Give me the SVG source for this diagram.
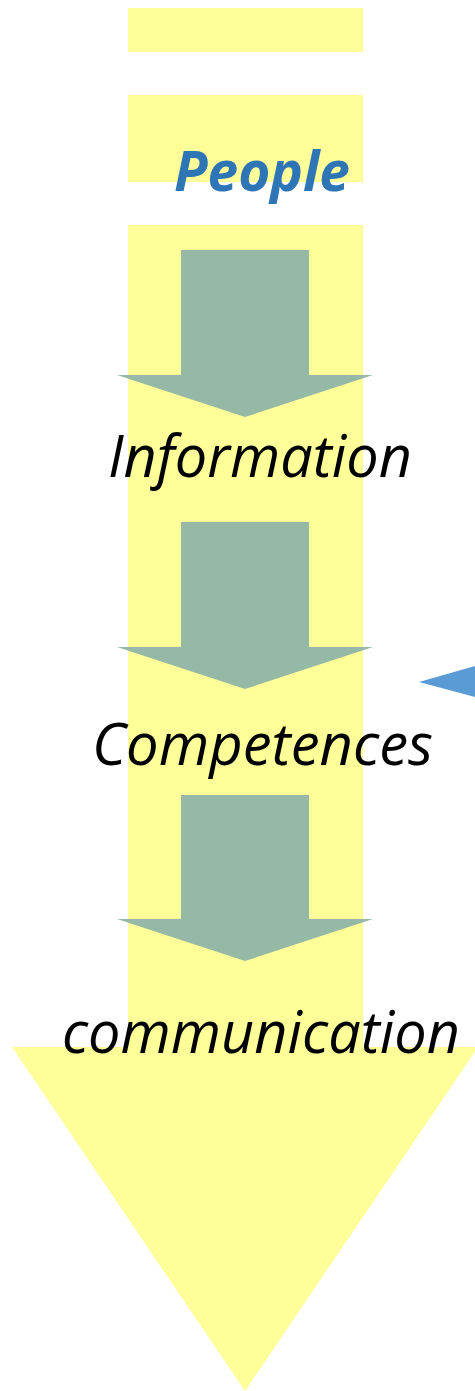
<svg xmlns="http://www.w3.org/2000/svg" width="475" height="1391" viewBox="0 0 475 1391">
<style>
.yel{fill:#FFFF99}
.grn{fill:#95B9A6}
.lbl{font-family:"Open Sans","Liberation Sans",sans-serif;font-style:italic;font-size:58px;fill:#000}
.ppl{font-family:"Open Sans","Liberation Sans",sans-serif;font-style:italic;font-weight:bold;font-size:56px;fill:#2E75B6}
</style>
<rect width="475" height="1391" fill="#fff"/>
<g id="backbone">
<rect class="yel" x="128" y="8" width="235" height="44"/>
<rect class="yel" x="128" y="95" width="235" height="87"/>
<polygon class="yel" points="128,225 363,225 363,1047 478,1047 245,1391 12,1047 128,1047"/>
</g>
<g id="connectors">
<polygon class="grn" points="181,250 309,250 309,375 373,375 245,417 117,375 181,375"/>
<polygon class="grn" points="181,522 309,522 309,647 373,647 245,689 117,647 181,647"/>
<polygon class="grn" points="181,795 309,795 309,919 373,919 245,961 117,919 181,919"/>
<polygon fill="#5B9BD5" points="419,682 475,666 475,697"/>
</g>
<g id="people"><text class="ppl" x="174" y="191" textLength="176" lengthAdjust="spacingAndGlyphs">People</text></g>
<g id="information"><text class="lbl" x="108" y="477" textLength="304" lengthAdjust="spacingAndGlyphs">Information</text></g>
<g id="competences"><text class="lbl" x="92" y="765" textLength="341" lengthAdjust="spacingAndGlyphs">Competences</text></g>
<g id="communication"><text class="lbl" x="62" y="1053" textLength="398" lengthAdjust="spacingAndGlyphs">communication</text></g>
</svg>
